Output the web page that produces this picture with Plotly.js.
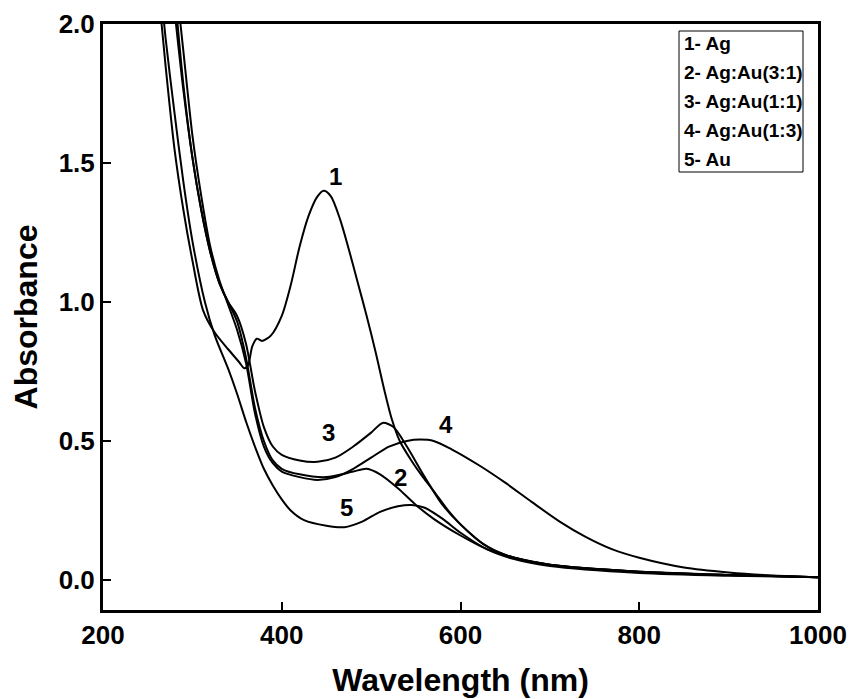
<!DOCTYPE html>
<html>
<head>
<meta charset="utf-8">
<script src="https://cdn.plot.ly/plotly-3.0.1.min.js"></script>
<style>html,body{margin:0;padding:0;background:#fff;}#chart{width:852px;height:699px;}</style>
</head>
<body>
<div id="chart"></div>
<script>
// Series names (legend)
const seriesNames = ["1- Ag", "2- Ag:Au(3:1)", "3- Ag:Au(1:1)", "4- Ag:Au(1:3)", "5- Au"];
const curveLabels = ["1", "2", "3", "4", "5"];

// Curve 1 - Ag
const wl1 = [262, 270, 280, 290, 300, 312, 325, 340, 352, 358, 362, 367, 372, 378, 388, 400, 410, 420, 430, 440, 447, 455, 465, 475, 485, 495, 505, 515, 523, 532, 545, 558, 570, 585, 600, 625, 650, 700, 750, 800, 900, 1000];
const ab1 = [2.12, 1.85, 1.55, 1.33, 1.15, 0.97, 0.89, 0.83, 0.785, 0.762, 0.77, 0.84, 0.868, 0.86, 0.88, 0.95, 1.06, 1.2, 1.31, 1.38, 1.40, 1.38, 1.3, 1.19, 1.07, 0.95, 0.82, 0.68, 0.58, 0.50, 0.43, 0.37, 0.32, 0.255, 0.2, 0.13, 0.09, 0.055, 0.04, 0.03, 0.018, 0.01];

// Curve 2 - Ag:Au(3:1)
const wl2 = [282, 290, 300, 310, 320, 330, 340, 350, 360, 370, 380, 390, 400, 420, 450, 480, 495, 510, 530, 550, 570, 600, 630, 660, 700, 800, 900, 1000];
const ab2 = [2.05, 1.78, 1.52, 1.33, 1.18, 1.07, 1.0, 0.93, 0.8, 0.62, 0.5, 0.43, 0.4, 0.38, 0.37, 0.39, 0.40, 0.38, 0.33, 0.27, 0.22, 0.16, 0.11, 0.08, 0.055, 0.03, 0.018, 0.01];

// Curve 3 - Ag:Au(1:1)
const wl3 = [280, 290, 300, 310, 320, 330, 340, 350, 360, 370, 380, 390, 400, 420, 440, 460, 480, 500, 513, 525, 540, 560, 580, 600, 630, 660, 700, 800, 900, 1000];
const ab3 = [2.05, 1.76, 1.52, 1.33, 1.18, 1.07, 1.0, 0.95, 0.85, 0.68, 0.55, 0.48, 0.45, 0.43, 0.425, 0.44, 0.48, 0.53, 0.565, 0.55, 0.48, 0.37, 0.27, 0.2, 0.12, 0.08, 0.055, 0.03, 0.018, 0.01];

// Curve 4 - Ag:Au(1:3)
const wl4 = [285, 290, 300, 310, 320, 330, 340, 350, 360, 370, 380, 390, 400, 420, 440, 460, 480, 500, 520, 540, 555, 570, 590, 622, 650, 680, 711, 740, 770, 800, 850, 900, 950, 1000];
const ab4 = [2.05, 1.9, 1.6, 1.38, 1.2, 1.08, 0.99, 0.9, 0.78, 0.6, 0.48, 0.42, 0.39, 0.37, 0.36, 0.37, 0.4, 0.44, 0.48, 0.5, 0.505, 0.5, 0.47, 0.41, 0.35, 0.28, 0.21, 0.155, 0.11, 0.08, 0.045, 0.027, 0.016, 0.01];

// Curve 5 - Au
const wl5 = [265, 270, 280, 290, 300, 314, 325, 340, 350, 360, 370, 380, 390, 400, 410, 425, 450, 470, 490, 510, 530, 545, 560, 580, 600, 630, 660, 700, 800, 900, 1000];
const ab5 = [2.12, 1.95, 1.68, 1.43, 1.22, 1.0, 0.88, 0.76, 0.67, 0.57, 0.48, 0.4, 0.34, 0.29, 0.25, 0.215, 0.195, 0.19, 0.21, 0.245, 0.265, 0.27, 0.26, 0.22, 0.17, 0.11, 0.075, 0.05, 0.025, 0.015, 0.01];

// Curve label positions (wavelength, absorbance)
const labelX = [460, 533, 452, 584, 472];
const labelY = [1.45, 0.37, 0.53, 0.56, 0.26];

const xTicks = [200, 400, 600, 800, 1000];
const yTicks = [0.0, 0.5, 1.0, 1.5, 2.0];

const wls = [wl1, wl2, wl3, wl4, wl5];
const abs = [ab1, ab2, ab3, ab4, ab5];

const traces = wls.map((w, i) => ({
  x: w, y: abs[i], type: 'scatter', mode: 'lines', name: seriesNames[i],
  line: {color: '#000', width: 2, shape: 'spline', smoothing: 0.8},
  showlegend: false, hoverinfo: 'skip'
}));

const FONT = 'Liberation Sans, Arial, sans-serif';

const annotations = curveLabels.map((t, i) => ({
  x: labelX[i], y: labelY[i], xref: 'x', yref: 'y', text: '<b>' + t + '</b>',
  showarrow: false, font: {family: FONT, size: 24, color: '#000'}
}));

// legend rows (pixel geometry of the plot: left 103, top 24, w 715, h 586)
const px = v => (v - 103) / 715;
const py = v => 1 - (v - 24) / 586;
const legLeft = 679, legRight = 803, legTop = 31, legBottom = 172;
seriesNames.forEach((s, i) => {
  annotations.push({
    xref: 'paper', yref: 'paper', x: px(legLeft + 3), y: py(43 + i * 29),
    xanchor: 'left', yanchor: 'middle', align: 'left', showarrow: false,
    text: '<b>' + s + '</b>', font: {family: FONT, size: 19, color: '#000'}
  });
});

const layout = {
  width: 852, height: 699,
  margin: {l: 103, r: 34, t: 24, b: 89},
  paper_bgcolor: '#fff', plot_bgcolor: '#fff',
  font: {family: FONT, color: '#000'},
  xaxis: {
    range: [200, 1000], tickvals: xTicks, ticks: 'inside', ticklen: 8, tickwidth: 2, tickcolor: '#000',
    showline: true, linewidth: 3, linecolor: '#000', mirror: true, showgrid: false, zeroline: false,
    tickfont: {family: FONT, size: 26, color: '#000', weight: 'bold'},
    title: {text: '<b>Wavelength (nm)</b>', font: {family: FONT, size: 32, color: '#000'}, standoff: 20}
  },
  yaxis: {
    range: [-0.108, 2.0], tickvals: yTicks, tickformat: '.1f', ticks: 'inside', ticklen: 8, tickwidth: 2, tickcolor: '#000',
    showline: true, linewidth: 3, linecolor: '#000', mirror: true, showgrid: false, zeroline: false,
    tickfont: {family: FONT, size: 26, color: '#000', weight: 'bold'},
    title: {text: '<b>Absorbance</b>', font: {family: FONT, size: 32, color: '#000'}, standoff: 12}
  },
  shapes: [{
    type: 'rect', xref: 'paper', yref: 'paper',
    x0: px(legLeft), x1: px(legRight), y0: py(legBottom), y1: py(legTop),
    line: {color: '#000', width: 1}, fillcolor: 'rgba(0,0,0,0)'
  }],
  annotations: annotations
};

Plotly.newPlot('chart', traces, layout, {displayModeBar: false, staticPlot: true});
</script>
</body>
</html>
